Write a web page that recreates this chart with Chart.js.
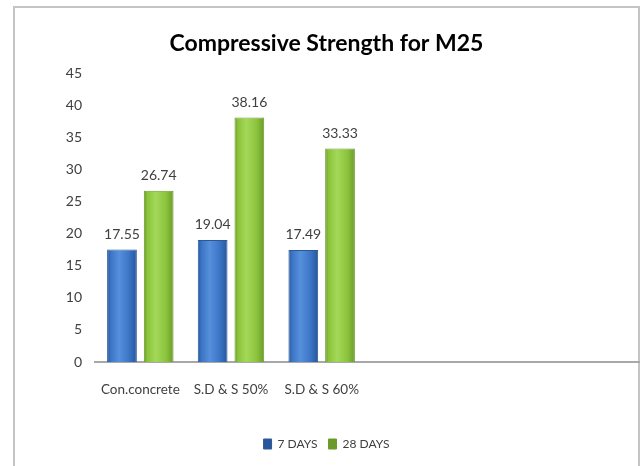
<!DOCTYPE html>
<html><head><meta charset="utf-8">
<script src="https://cdn.jsdelivr.net/npm/chart.js@4.4.1/dist/chart.umd.min.js"></script>
<style>html,body{margin:0;padding:0;background:#fff}#wrap{width:644px;height:466px;position:relative}</style>
</head><body><div id="wrap"><canvas id="c" width="644" height="466"></canvas></div>
<script>
const chartTitle = 'Compressive Strength for M25';
const categories = ['Con.concrete', 'S.D & S 50%', 'S.D & S 60%', '', '', ''];
const seriesNames = ['7 DAYS', '28 DAYS'];
const days7 = [17.55, 19.04, 17.49, null, null, null];
const days28 = [26.74, 38.16, 33.33, null, null, null];
const yMin = 0, yMax = 45, yStep = 5;

const FONT = "Lato, 'Open Sans', sans-serif";
const CAT_PCT = 0.81, BAR_PCT = 0.81;

function barFill(base, light, dark) {
  return function (ctx) {
    if (ctx.type !== 'data') return base;
    const chart = ctx.chart, xs = chart.scales.x;
    if (!xs || !chart.chartArea) return base;
    const cat = xs.width / categories.length;
    const slot = cat * CAT_PCT / 2;
    const c = xs.getPixelForValue(ctx.dataIndex) + (ctx.datasetIndex - 0.5) * slot;
    const w = slot * BAR_PCT;
    const g = chart.ctx.createLinearGradient(c - w / 2, 0, c + w / 2, 0);
    g.addColorStop(0, dark);
    g.addColorStop(0.12, base);
    g.addColorStop(0.4, light);
    g.addColorStop(0.75, base);
    g.addColorStop(1, dark);
    return g;
  };
}

const framePlugin = {
  id: 'frame',
  beforeDraw(chart) {
    const c = chart.ctx;
    c.save();
    c.fillStyle = '#ffffff';
    c.fillRect(0, 0, chart.width, chart.height);
    c.strokeStyle = '#c4c4c4';
    c.lineWidth = 2;
    c.beginPath();
    c.moveTo(14, chart.height);
    c.lineTo(14, 7);
    c.lineTo(639, 7);
    c.lineTo(639, chart.height);
    c.stroke();
    c.restore();
  }
};

const valueLabels = {
  id: 'valueLabels',
  afterDatasetsDraw(chart) {
    const c = chart.ctx;
    c.save();
    c.font = '14px ' + FONT;
    c.fillStyle = '#404040';
    c.textAlign = 'center';
    c.textBaseline = 'bottom';
    chart.data.datasets.forEach((ds, di) => {
      chart.getDatasetMeta(di).data.forEach((el, i) => {
        const v = ds.data[i];
        if (v === null || v === undefined) return;
        c.fillText(v.toFixed(2), el.x, el.y - 8);
      });
    });
    c.restore();
  }
};

new Chart(document.getElementById('c'), {
  type: 'bar',
  data: {
    labels: categories,
    datasets: [
      { label: seriesNames[0], data: days7,
        backgroundColor: barFill('#3a74c4', '#5690dc', '#28569a'),
        borderColor: '#2a5898', borderWidth: 1,
        categoryPercentage: CAT_PCT, barPercentage: BAR_PCT },
      { label: seriesNames[1], data: days28,
        backgroundColor: barFill('#8bc43c', '#a4d858', '#6a9a2a'),
        borderColor: '#6c9a2c', borderWidth: 1,
        categoryPercentage: CAT_PCT, barPercentage: BAR_PCT }
    ]
  },
  options: {
    responsive: false,
    animation: false,
    layout: { padding: { left: 14, right: 5, top: 0, bottom: 6 } },
    scales: {
      x: {
        grid: { display: false, drawTicks: false },
        border: { display: true, color: '#a8a8a8', width: 2 },
        ticks: { color: '#404040', font: { family: FONT, size: 13.5 }, padding: 20, maxRotation: 0, autoSkip: false },
        afterFit(s) { s.height = 65; }
      },
      y: {
        min: yMin, max: yMax,
        grid: { display: false, drawTicks: false },
        border: { display: false },
        ticks: { stepSize: yStep, color: '#404040', font: { family: FONT, size: 14 }, padding: 13 },
        afterFit(s) { s.width = 81; }
      }
    },
    plugins: {
      title: {
        display: true, text: chartTitle, color: '#000000',
        font: { family: FONT, size: 23, weight: 'bold' },
        padding: { top: 30, bottom: 16 }
      },
      legend: {
        position: 'bottom',
        labels: { color: '#404040', font: { family: FONT, size: 12 }, boxWidth: 8, boxHeight: 10, padding: 11 }
      },
      tooltip: { enabled: false }
    }
  },
  plugins: [framePlugin, valueLabels]
});
</script>
</body></html>
